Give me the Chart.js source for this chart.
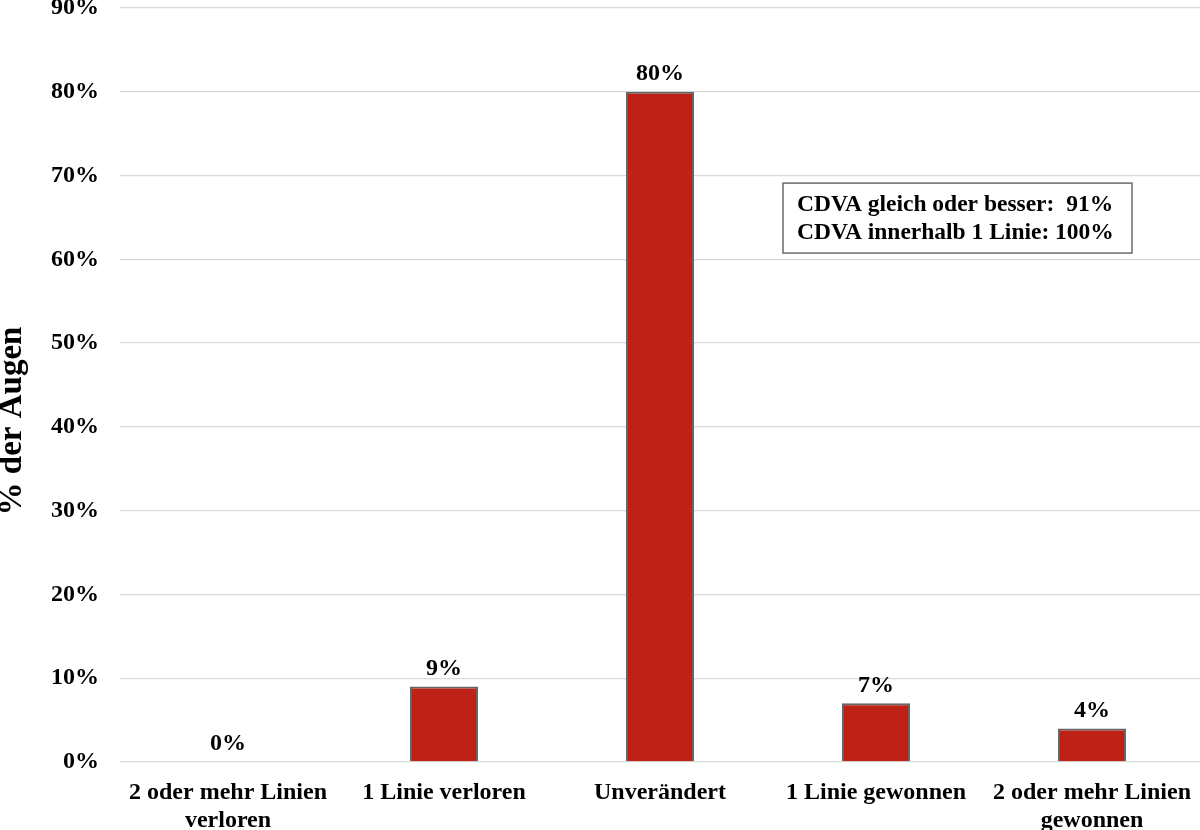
<!DOCTYPE html>
<html>
<head>
<meta charset="utf-8">
<script src="https://cdn.jsdelivr.net/npm/chart.js@4"></script>
<style>
  html, body { margin: 0; padding: 0; background: #fff; }
  #wrap { width: 1200px; height: 830px; position: relative; }
</style>
</head>
<body>
<div id="wrap"><canvas id="cdva-chart"></canvas></div>
<script>
// chart data
const categories = [
  ['2 oder mehr Linien', 'verloren'],
  '1 Linie verloren',
  'Unverändert',
  '1 Linie gewonnen',
  ['2 oder mehr Linien', 'gewonnen']
];
const percentEyes = [0, 9, 80, 7, 4];
const yTitle = '% der Augen';
const noteLines = ['CDVA gleich oder besser:  91%', 'CDVA innerhalb 1 Linie: 100%'];

const serif = "'Liberation Serif', 'Times New Roman', serif";

// value labels above the bars
const barLabels = {
  id: 'barLabels',
  afterDatasetsDraw(chart) {
    const ctx = chart.ctx;
    const meta = chart.getDatasetMeta(0);
    ctx.save();
    ctx.font = 'bold 24px ' + serif;
    ctx.fillStyle = '#000';
    ctx.textAlign = 'center';
    ctx.textBaseline = 'bottom';
    meta.data.forEach((bar, i) => {
      ctx.fillText(percentEyes[i] + '%', bar.x, bar.y - 6);
    });
    ctx.restore();
  }
};

// rotated y axis title, centred on the whole canvas height like the original
const axisTitle = {
  id: 'axisTitle',
  afterDraw(chart) {
    const ctx = chart.ctx;
    ctx.save();
    ctx.translate(12, chart.height / 2 + 6);
    ctx.rotate(-Math.PI / 2);
    ctx.font = 'bold 33px ' + serif;
    ctx.fillStyle = '#000';
    ctx.textAlign = 'center';
    ctx.textBaseline = 'middle';
    ctx.fillText(yTitle, 0, 0);
    ctx.restore();
  }
};

// text box in the upper right
const noteBox = {
  id: 'noteBox',
  afterDraw(chart) {
    const ctx = chart.ctx;
    const x = chart.scales.x;
    const y = chart.scales.y;
    const left = x.getPixelForValue(2) + 123;
    const right = x.getPixelForValue(4) + 40;
    const top = y.getPixelForValue(69.1);
    const bottom = y.getPixelForValue(60.75);
    ctx.save();
    ctx.fillStyle = '#fff';
    ctx.fillRect(left, top, right - left, bottom - top);
    ctx.strokeStyle = '#6b6b6b';
    ctx.lineWidth = 1.5;
    ctx.strokeRect(left, top, right - left, bottom - top);
    ctx.font = 'bold 23.5px ' + serif;
    ctx.fillStyle = '#000';
    ctx.textAlign = 'left';
    ctx.textBaseline = 'middle';
    const mid = (top + bottom) / 2;
    ctx.fillText(noteLines[0], left + 14, mid - 13);
    ctx.fillText(noteLines[1], left + 14, mid + 15);
    ctx.restore();
  }
};

function noPad(scale) {
  scale.paddingTop = 0;
  scale.paddingBottom = 0;
  scale.paddingLeft = 0;
  scale.paddingRight = 0;
}

const canvas = document.getElementById('cdva-chart');
new Chart(canvas.getContext('2d'), {
  type: 'bar',
  data: {
    labels: categories,
    datasets: [{
      data: percentEyes,
      backgroundColor: '#BE2217',
      borderColor: '#666666',
      borderWidth: 2,
      categoryPercentage: 1.0,
      barPercentage: 0.315
    }]
  },
  options: {
    responsive: true,
    maintainAspectRatio: false,
    animation: false,
    layout: { padding: { top: 8, right: 0, left: 0, bottom: 0 } },
    plugins: {
      legend: { display: false },
      tooltip: { enabled: false }
    },
    scales: {
      x: {
        grid: { display: false, drawTicks: false },
        border: { display: false },
        ticks: {
          color: '#000',
          font: { family: serif, size: 24, weight: 'bold', lineHeight: 1.17 },
          padding: 17,
          maxRotation: 0,
          autoSkip: false
        },
        afterFit(scale) { scale.height = 68; noPad(scale); }
      },
      y: {
        min: 0,
        max: 90,
        border: { display: false },
        grid: { color: '#d9d9d9', lineWidth: 1.3, drawTicks: false },
        ticks: {
          stepSize: 10,
          color: '#000',
          padding: 21,
          font: { family: serif, size: 24, weight: 'bold' },
          callback: v => v + '%'
        },
        afterFit(scale) { scale.width = 120; noPad(scale); }
      }
    }
  },
  plugins: [barLabels, axisTitle, noteBox]
});
</script>
</body>
</html>
